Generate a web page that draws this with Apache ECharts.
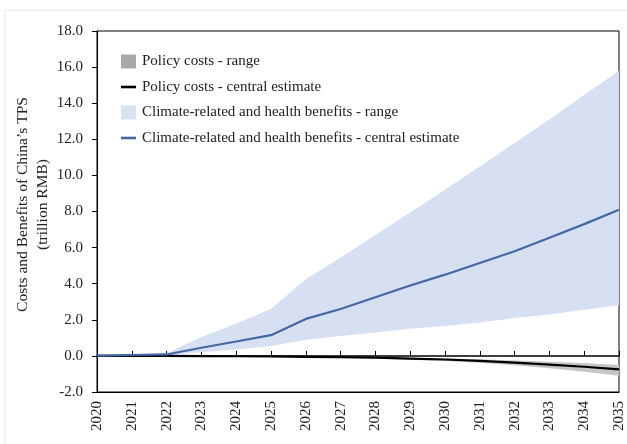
<!DOCTYPE html>
<html>
<head>
<meta charset="utf-8">
<script src="https://cdn.jsdelivr.net/npm/echarts@6/dist/echarts.min.js"></script>
<style>
  html, body { margin: 0; padding: 0; background: #fff; }
  #chart { width: 627px; height: 444px; }
</style>
</head>
<body>
<div id="chart"></div>
<script>
// Years on the horizontal axis
var years = ['2020','2021','2022','2023','2024','2025','2026','2027','2028','2029','2030','2031','2032','2033','2034','2035'];

// Climate-related and health benefits (trillion RMB)
var benefitCentral = [0.02, 0.05, 0.08, 0.45, 0.8, 1.15, 2.05, 2.6, 3.25, 3.9, 4.5, 5.15, 5.8, 6.55, 7.3, 8.1];
var benefitLow     = [0, 0.02, 0.05, 0.2, 0.35, 0.55, 0.9, 1.1, 1.3, 1.5, 1.65, 1.85, 2.1, 2.3, 2.55, 2.8];
var benefitHigh    = [0.02, 0.08, 0.15, 1.05, 1.8, 2.6, 4.25, 5.45, 6.7, 7.95, 9.2, 10.5, 11.8, 13.1, 14.45, 15.8];

// Policy costs (trillion RMB, negative)
var costCentral = [0, 0, 0, -0.01, -0.02, -0.03, -0.05, -0.07, -0.1, -0.15, -0.2, -0.28, -0.37, -0.48, -0.6, -0.75];
var costHigh    = [0, 0, 0, 0, -0.01, -0.02, -0.03, -0.05, -0.07, -0.1, -0.14, -0.19, -0.25, -0.32, -0.4, -0.5];
var costLow     = [0, 0, 0, -0.02, -0.03, -0.05, -0.08, -0.11, -0.15, -0.21, -0.28, -0.38, -0.52, -0.68, -0.88, -1.1];

// Y axis tick settings
var yMin = -2, yMax = 18, yStep = 2;

var FONT = "'Liberation Serif', 'Times New Roman', serif";
var BAND_BLUE = '#d6e0f2';
var LINE_BLUE = '#4467a8';
var BAND_GREY = '#c6c6c6';
var LINE_ICON = 'path://M0,0h15v2.6h-15z';

function diff(a, b) {
  return a.map(function (v, i) { return +(v - b[i]).toFixed(4); });
}

var chart = echarts.init(document.getElementById('chart'), null, { renderer: 'canvas' });

chart.setOption({
  animation: false,
  backgroundColor: '#fff',
  graphic: [{
    type: 'rect',
    shape: { x: 5, y: 10, width: 640, height: 460 },
    style: { fill: 'none', stroke: '#e4e4e4', lineWidth: 1 },
    z: -10
  }],
  grid: {
    left: 97, right: 8, top: 31, bottom: 52,
    outerBoundsMode: 'none',
    show: true, borderColor: '#000', borderWidth: 1, backgroundColor: 'transparent'
  },
  legend: {
    orient: 'vertical',
    left: 116, top: 49,
    itemWidth: 15, itemHeight: 14, itemGap: 10.5,
    symbolKeepAspect: true,
    textStyle: { fontFamily: FONT, fontSize: 15, color: '#222', padding: [0, 0, 0, 1] },
    data: [
      { name: 'Policy costs - range', icon: 'rect', itemStyle: { color: '#a9a9a9' } },
      { name: 'Policy costs - central estimate', icon: LINE_ICON, itemStyle: { color: '#000' } },
      { name: 'Climate-related and health benefits - range', icon: 'rect', itemStyle: { color: '#d9e2f3' } },
      { name: 'Climate-related and health benefits - central estimate', icon: LINE_ICON, itemStyle: { color: LINE_BLUE } }
    ]
  },
  xAxis: [{
    type: 'category',
    data: years,
    boundaryGap: false,
    position: 'bottom',
    axisLine: { onZero: false, lineStyle: { color: '#000', width: 1 } },
    axisTick: { show: false },
    axisLabel: { rotate: 90, margin: 9, fontFamily: FONT, fontSize: 15, color: '#222' },
    splitLine: { show: false }
  }, {
    type: 'category',
    data: years,
    boundaryGap: false,
    position: 'bottom',
    axisLine: { onZero: true, lineStyle: { color: '#000', width: 1.6 } },
    axisTick: { show: true, inside: true, length: 5, lineStyle: { color: '#000', width: 1 } },
    axisLabel: { show: false },
    splitLine: { show: false }
  }],
  yAxis: {
    type: 'value',
    min: yMin, max: yMax, interval: yStep,
    name: 'Costs and Benefits of China\u2019s TPS\n(trillion RMB)',
    nameLocation: 'middle',
    nameGap: 44,
    nameMoveOverlap: false,
    nameTextStyle: { fontFamily: FONT, fontSize: 15.5, color: '#222', lineHeight: 20, padding: [0, 0, 0, 14] },
    axisLine: { show: true, lineStyle: { color: '#000', width: 1 } },
    axisTick: { show: true, inside: false, length: 5, lineStyle: { color: '#000' } },
    axisLabel: {
      margin: 14, fontFamily: FONT, fontSize: 15, color: '#222',
      formatter: function (v) { return v.toFixed(1); }
    },
    splitLine: { show: false }
  },
  series: [
    {
      name: 'costBase', type: 'line', stack: 'cost', data: costHigh,
      symbol: 'none', silent: true, lineStyle: { width: 0, opacity: 0 }
    },
    {
      name: 'Policy costs - range', type: 'line', stack: 'cost', data: diff(costLow, costHigh),
      symbol: 'none', silent: true,
      itemStyle: { color: '#a9a9a9' },
      lineStyle: { width: 0, opacity: 0 },
      areaStyle: { color: BAND_GREY, opacity: 1 }
    },
    {
      name: 'benefitBase', type: 'line', stack: 'benefit', data: benefitLow,
      symbol: 'none', silent: true, lineStyle: { width: 0, opacity: 0 }
    },
    {
      name: 'Climate-related and health benefits - range', type: 'line', stack: 'benefit',
      data: diff(benefitHigh, benefitLow),
      symbol: 'none', silent: true,
      itemStyle: { color: '#d9e2f3' },
      lineStyle: { width: 0, opacity: 0 },
      areaStyle: { color: BAND_BLUE, opacity: 1 }
    },
    {
      name: 'Policy costs - central estimate', type: 'line', data: costCentral,
      symbol: 'none', itemStyle: { color: '#000' }, lineStyle: { color: '#000', width: 2.2 }
    },
    {
      name: 'Climate-related and health benefits - central estimate', type: 'line', data: benefitCentral,
      symbol: 'none', itemStyle: { color: LINE_BLUE }, lineStyle: { color: LINE_BLUE, width: 2.2 }
    }
  ]
});
</script>
</body>
</html>
